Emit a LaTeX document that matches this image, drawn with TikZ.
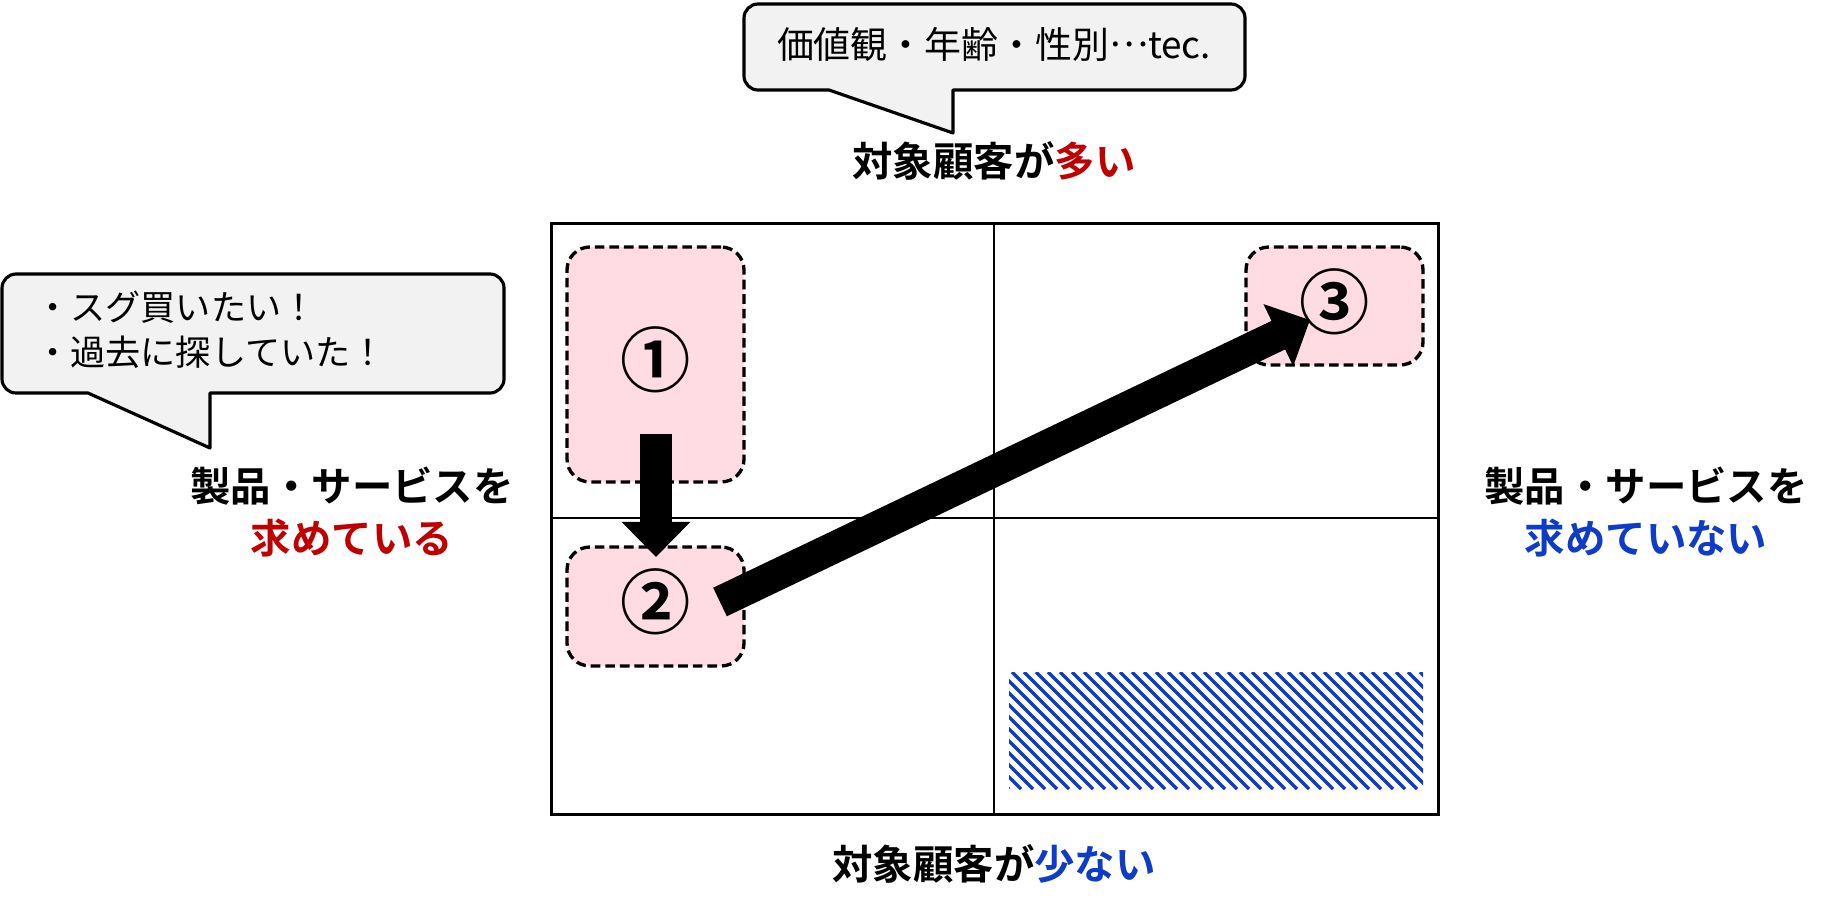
\documentclass[tikz,border=0pt]{standalone}
\usepackage{fontspec}
\usetikzlibrary{arrows.meta}
\newfontfamily\jpfont{Noto Sans CJK JP}[BoldFont={Noto Sans CJK JP Bold}]

\definecolor{mred}{RGB}{192,0,0}
\definecolor{mblue}{RGB}{14,60,200}
\definecolor{mpink}{RGB}{255,220,228}
\definecolor{mgray}{RGB}{242,242,242}

\tikzset{
    segbox/.style={draw=black, dash pattern=on 5.5pt off 2.8pt, line width=1.9pt, fill=mpink,
        rounded corners=13pt, inner sep=0pt, font=\jpfont\bfseries\fontsize{40}{40}\selectfont},
    bigarrow/.style={line width=18pt, -{Triangle[width=38pt,length=20pt]}},
    callout/.style={fill=mgray, draw=black, line width=1.8pt, line join=round},
    axislabel/.style={font=\jpfont\bfseries\fontsize{23}{29.5}\selectfont, align=center},
    bubbletext/.style={font=\jpfont\fontsize{20}{25.5}\selectfont, inner sep=0pt}
}

\begin{document}
\begin{tikzpicture}[x=0.02cm, y=-0.02cm]
    \useasboundingbox (0,0) rectangle (1838,920);

    % Speech bubbles
    \draw[callout] (953,90) [rounded corners=8pt] -- (1245,90) -- (1245,4) -- (744,4) -- (744,90)
        [sharp corners] -- (829,90) -- (953,133) -- cycle;
    \node[bubbletext, font=\jpfont\fontsize{21}{26}\selectfont] (topnote) at (994,44) {価値観・年齢・性別\raisebox{0.3em}{…}tec.};

    \draw[callout] (210,393) [rounded corners=8pt] -- (504,393) -- (504,274) -- (2,274) -- (2,393)
        [sharp corners] -- (88,393) -- (210,448) -- cycle;
    \node[bubbletext, anchor=west, align=left] (leftnote) at (35,330) {・スグ買いたい！\\・過去に探していた！};

    % Axis labels
    \node[axislabel] (many) at (994,161) {対象顧客が\textcolor{mred}{多い}};
    \node[axislabel] (few) at (994,864) {対象顧客が\textcolor{mblue}{少ない}};
    \node[axislabel] (want) at (352,512) {製品・サービスを\\\textcolor{mred}{求めている}};
    \node[axislabel] (nowant) at (1646,512) {製品・サービスを\\\textcolor{mblue}{求めていない}};

    % Matrix
    \draw[line width=1.7pt] (551,223) rectangle (1438,814);
    \draw[line width=0.9pt] (994,223) -- (994,814);
    \draw[line width=0.9pt] (551,518) -- (1438,518);

    % Hatched area
    \begin{scope}
        \clip (1009,672) rectangle (1423,789);
        \foreach \x in {880,892,...,1430}
            \draw[mblue, line width=2pt] (\x,672) -- ++(117,117);
    \end{scope}

    % Segments
    \node[segbox, minimum width=3.54cm, minimum height=4.7cm] (seg1) at (655.5,364.5) {\raisebox{9pt}{①}};
    \node[segbox, minimum width=3.54cm, minimum height=2.38cm] (seg2) at (655.5,606.5) {\raisebox{9pt}{②}};
    \node[segbox, minimum width=3.54cm, minimum height=2.36cm] (seg3) at (1334.5,306) {\raisebox{9pt}{③}};

    % Moves
    \coordinate (down1) at (656,434);
    \coordinate (down2) at (656,557);
    \coordinate (diag1) at (720,602);
    \coordinate (diag2) at (1310,320);
    \draw[bigarrow] (down1) -- (down2);
    \draw[bigarrow] (diag1) -- (diag2);
\end{tikzpicture}
\end{document}
